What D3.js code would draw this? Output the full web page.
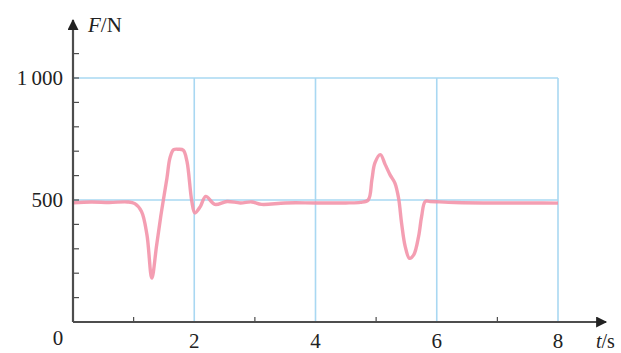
<!DOCTYPE html>
<html>
<head>
<meta charset="utf-8">
<script src="https://cdn.jsdelivr.net/npm/d3@7"></script>
<style>
  body { margin: 0; background: #fff; }
  svg { display: block; }
  text { font-family: "Liberation Serif", "DejaVu Serif", serif; fill: #222; }
</style>
</head>
<body>
<svg width="621" height="353"></svg>
<script>
// F (N), against time t (s)
var times = [0, 0.3, 0.6, 0.9, 1.02, 1.13, 1.22, 1.3, 1.38, 1.46, 1.55, 1.6, 1.66, 1.74, 1.82, 1.88, 1.96, 2.01,
             2.1, 2.19, 2.34, 2.54, 2.76, 2.95, 3.11, 3.5, 4.0, 4.5, 4.74, 4.87, 4.93, 4.98, 5.07, 5.15, 5.23,
             5.31, 5.37, 5.42, 5.48, 5.55, 5.62, 5.7, 5.75, 5.81, 5.89, 6.3, 7.0, 7.6, 8.0];
var forces = [488, 492, 490, 492, 485, 453, 357, 180, 316, 453, 590, 673, 706, 708, 704, 658, 494, 447,
              473, 515, 482, 494, 488, 492, 482, 488, 488, 488, 490, 500, 583, 652, 686, 645, 603,
              569, 508, 405, 309, 261, 275, 350, 432, 494, 494, 490, 488, 488, 487];

var yLabelTicks = [0, 500, 1000];
var yMinorTicks = [100, 200, 300, 400, 600, 700, 800, 900, 1100];
var xLabelTicks = [2, 4, 6, 8];
var xMinorTicks = [1, 3, 5, 7];
var xGrid = [2, 4, 6, 8];
var yGrid = [500, 1000];

var svg = d3.select("svg");

var x = d3.scaleLinear().domain([0, 8]).range([73, 558]);
var y = d3.scaleLinear().domain([0, 1000]).range([322, 78]);

var gridColor = "#a9d8f2",
    axisColor = "#4d4d4d";

// grid
svg.append("g").selectAll("line")
    .data(xGrid)
    .enter().append("line")
        .attr("x1", function(d) { return x(d); })
        .attr("x2", function(d) { return x(d); })
        .attr("y1", y(0))
        .attr("y2", y(1000))
        .attr("stroke", gridColor)
        .attr("stroke-width", 1.6);

svg.append("g").selectAll("line")
    .data(yGrid)
    .enter().append("line")
        .attr("x1", x(0))
        .attr("x2", x(8))
        .attr("y1", function(d) { return y(d); })
        .attr("y2", function(d) { return y(d); })
        .attr("stroke", gridColor)
        .attr("stroke-width", 1.6);

// trace
var line = d3.line()
    .x(function(d, i) { return x(times[i]); })
    .y(function(d) { return y(d); })
    .curve(d3.curveCatmullRom.alpha(0.5));

svg.append("path")
    .datum(forces)
    .attr("d", line)
    .attr("fill", "none")
    .attr("stroke", "#f393aa")
    .attr("stroke-width", 3.4)
    .attr("stroke-linejoin", "round")
    .attr("stroke-opacity", 0.9);

// axes with arrows
svg.append("defs").append("marker")
    .attr("id", "arrow")
    .attr("viewBox", "0 0 10 10")
    .attr("refX", 9)
    .attr("refY", 5)
    .attr("markerWidth", 6)
    .attr("markerHeight", 5)
    .attr("markerUnits", "strokeWidth")
    .attr("orient", "auto")
  .append("path")
    .attr("d", "M0,0 L10,5 L0,10 Z")
    .attr("fill", "#222");

svg.append("line")
    .attr("x1", x(0)).attr("y1", y(0))
    .attr("x2", x(0)).attr("y2", 20)
    .attr("stroke", axisColor).attr("stroke-width", 2.2)
    .attr("marker-end", "url(#arrow)");

svg.append("line")
    .attr("x1", x(0)).attr("y1", y(0))
    .attr("x2", 606).attr("y2", y(0))
    .attr("stroke", axisColor).attr("stroke-width", 2.2)
    .attr("marker-end", "url(#arrow)");

// small inward ticks
svg.append("g").selectAll("line")
    .data(yMinorTicks.concat(yGrid))
    .enter().append("line")
        .attr("x1", x(0))
        .attr("x2", x(0) + 6)
        .attr("y1", function(d) { return y(d); })
        .attr("y2", function(d) { return y(d); })
        .attr("stroke", axisColor)
        .attr("stroke-width", 1.2);

svg.append("g").selectAll("line")
    .data(xMinorTicks)
    .enter().append("line")
        .attr("x1", function(d) { return x(d); })
        .attr("x2", function(d) { return x(d); })
        .attr("y1", y(0))
        .attr("y2", y(0) - 5)
        .attr("stroke", axisColor)
        .attr("stroke-width", 1.2);

// tick labels
svg.append("g").selectAll("text")
    .data(yLabelTicks.slice(1))
    .enter().append("text")
        .attr("x", 63)
        .attr("y", function(d) { return y(d); })
        .attr("dy", "0.35em")
        .attr("text-anchor", "end")
        .style("font-size", "21px")
        .text(function(d) { return d === 1000 ? "1\u2009000" : d; });

svg.append("text")
    .attr("x", 58)
    .attr("y", 345)
    .attr("text-anchor", "middle")
    .style("font-size", "21px")
    .text(yLabelTicks[0]);

svg.append("g").selectAll("text")
    .data(xLabelTicks)
    .enter().append("text")
        .attr("x", function(d) { return x(d); })
        .attr("y", 348)
        .attr("text-anchor", "middle")
        .style("font-size", "21px")
        .text(function(d) { return d; });

// axis titles
var fTitle = svg.append("text")
    .attr("x", 88)
    .attr("y", 32)
    .style("font-size", "21px");
fTitle.append("tspan").style("font-style", "italic").text("F");
fTitle.append("tspan").text("/N");

var tTitle = svg.append("text")
    .attr("x", 596)
    .attr("y", 348)
    .style("font-size", "20px");
tTitle.append("tspan").style("font-style", "italic").text("t");
tTitle.append("tspan").text("/s");
</script>
</body>
</html>
